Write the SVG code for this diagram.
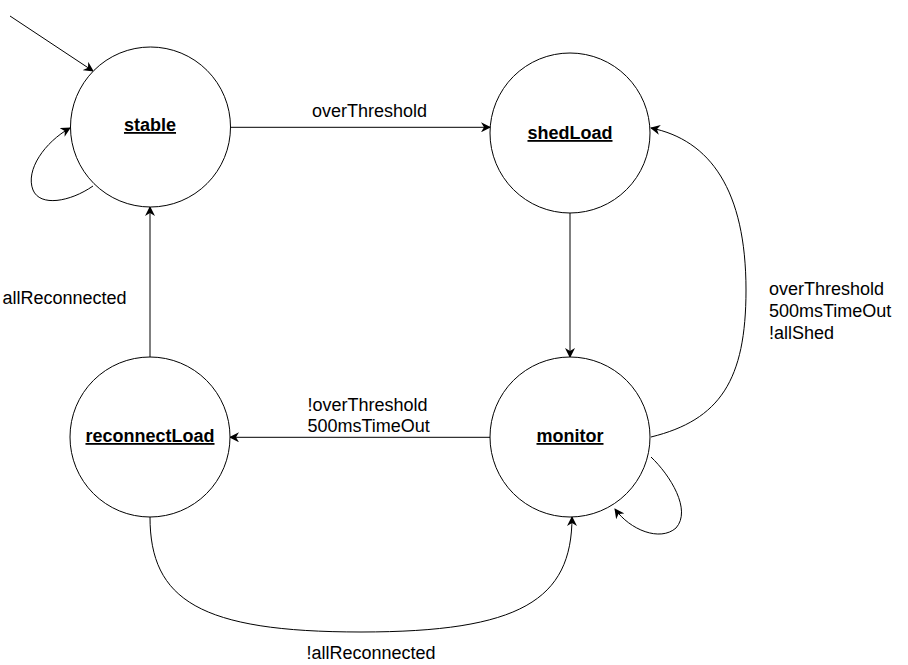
<svg xmlns="http://www.w3.org/2000/svg" width="908" height="665" viewBox="0 0 908 665">
<defs>
<marker id="arr" viewBox="0 0 10 10" refX="9" refY="5" markerWidth="10" markerHeight="10" markerUnits="userSpaceOnUse" orient="auto">
<path d="M0,0 L10,5 L0,10 L3,5 Z" fill="#000"/>
</marker>
<style>
.node{fill:#fff;stroke:#000;stroke-width:1}
.nl{font-family:"Liberation Sans",Arial,sans-serif;font-size:18px;font-weight:bold;text-decoration:underline;text-anchor:middle;fill:#000}
.el{fill:none;stroke:#000;stroke-width:1;marker-end:url(#arr)}
.lb{font-family:"Liberation Sans",Arial,sans-serif;font-size:18px;fill:#000}
</style>
</defs>
<rect width="908" height="665" fill="#fff"/>
<g id="connectors">
<path class="el" d="M10,16 L93,71"/>
<path class="el" d="M93,186 C70,202 40,207 33,190 C25,170 45,142 70,128"/>
<path class="el" d="M231,127.3 L490,127.3"/>
<path class="el" d="M570,213 L570,357"/>
<path class="el" d="M490,437.3 L230,437.3"/>
<path class="el" d="M150,357 L150,207"/>
<path class="el" d="M150,517 C150,600 200,632 361,632 C520,632 572,600 572,517"/>
<path class="el" d="M651,437 C720,420 746,380 746,290 C746,190 710,140 651,128"/>
<path class="el" d="M651,457 C670,475 692,510 676,528 C660,542 630,530 615,509"/>
</g>
<g id="labels">
<text class="lb" x="369.5" y="116.5" text-anchor="middle">overThreshold</text>
<text class="lb" x="2.5" y="304.3">allReconnected</text>
<text class="lb" x="307.5" y="410.7">!overThreshold</text>
<text class="lb" x="307.5" y="431.7">500msTimeOut</text>
<text class="lb" x="769" y="295">overThreshold</text>
<text class="lb" x="769" y="317">500msTimeOut</text>
<text class="lb" x="769" y="339">!allShed</text>
<text class="lb" x="371" y="658.5" text-anchor="middle">!allReconnected</text>
</g>
<g id="stable"><circle class="node" cx="150.5" cy="127" r="80"/><text class="nl" x="150" y="131">stable</text></g>
<g id="shedLoad"><circle class="node" cx="570" cy="133" r="80"/><text class="nl" x="570" y="139">shedLoad</text></g>
<g id="reconnectLoad"><circle class="node" cx="150" cy="437" r="80"/><text class="nl" x="150" y="442">reconnectLoad</text></g>
<g id="monitor"><circle class="node" cx="570" cy="437" r="80"/><text class="nl" x="570" y="442">monitor</text></g>
</svg>
